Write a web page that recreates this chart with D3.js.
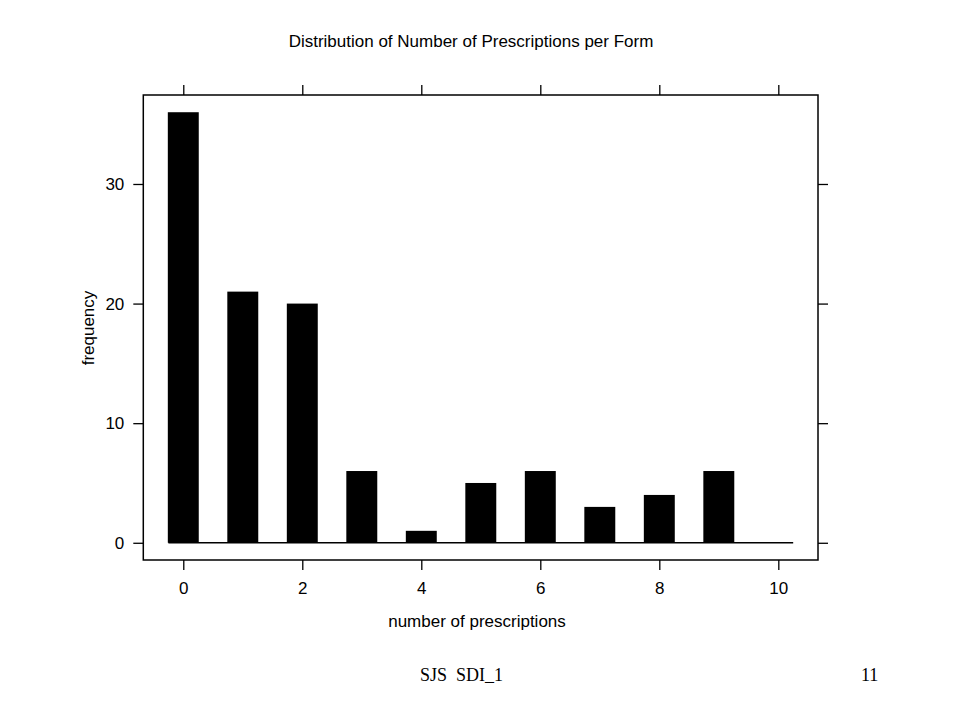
<!DOCTYPE html>
<html><head><meta charset="utf-8">
<script src="https://cdn.jsdelivr.net/npm/d3@7"></script>
<style>body{margin:0;background:#fff}</style>
</head><body>
<svg id="c" width="960" height="720"></svg>
<script>
const counts = [0,1,2,3,4,5,6,7,8,9,10];
const freqs = [36,21,20,6,1,5,6,3,4,6,0];
const xTicks = [0,2,4,6,8,10];
const yTicks = [0,10,20,30];

const svg = d3.select("#c");
const L=143.3, R=818, T=95, B=560;
const x = d3.scaleLinear().domain([-0.672,10.667]).range([L,R]);
const y = d3.scaleLinear().domain([-1.44,37.44]).range([B,T]);
const font = "Liberation Sans, Arial, sans-serif";

svg.append("text").attr("x",471).attr("y",47).attr("text-anchor","middle")
  .attr("font-family",font).attr("font-size",17).text("Distribution of Number of Prescriptions per Form");

// bars
svg.selectAll("rect.bar").data(freqs).enter().append("rect")
  .attr("x",(d,i)=>x(counts[i]-0.26)).attr("width",x(0.26)-x(-0.26))
  .attr("y",d=>y(d)).attr("height",d=>y(0)-y(d)).attr("fill","#000");

// baseline
svg.append("line").attr("x1",x(-0.25)).attr("x2",x(10.25)).attr("y1",y(0)).attr("y2",y(0))
  .attr("stroke","#000").attr("stroke-width",1.5);

// box
svg.append("rect").attr("x",L).attr("y",T).attr("width",R-L).attr("height",B-T)
  .attr("fill","none").attr("stroke","#000").attr("stroke-width",1.5);

// axes
const axB = d3.axisBottom(x).tickValues(xTicks).tickSize(10).tickPadding(12);
const axT = d3.axisTop(x).tickValues(xTicks).tickSize(10).tickFormat("");
const axL = d3.axisLeft(y).tickValues(yTicks).tickSize(10).tickPadding(9);
const axR = d3.axisRight(y).tickValues(yTicks).tickSize(10).tickFormat("");
function style(g){
  g.select(".domain").remove();
  g.selectAll("line").attr("stroke","#000").attr("stroke-width",1.3);
  g.selectAll("text").attr("font-family",font).attr("font-size",17).attr("fill","#000");
}
svg.append("g").attr("transform",`translate(0,${B})`).call(axB).call(style);
svg.append("g").attr("transform",`translate(0,${T})`).call(axT).call(style);
svg.append("g").attr("transform",`translate(${L},0)`).call(axL).call(style);
svg.append("g").attr("transform",`translate(${R},0)`).call(axR).call(style);

svg.append("text").attr("x",477).attr("y",627).attr("text-anchor","middle")
  .attr("font-family",font).attr("font-size",17).text("number of prescriptions");
svg.append("text").attr("transform","translate(94,328) rotate(-90)").attr("text-anchor","middle")
  .attr("font-family",font).attr("font-size",17).text("frequency");

svg.append("text").attr("x",420).attr("y",681)
  .attr("font-family","Liberation Serif, Times New Roman, serif").attr("font-size",18).attr("xml:space","preserve").text("SJS  SDI_1");
svg.append("text").attr("x",861).attr("y",681)
  .attr("font-family","Liberation Serif, Times New Roman, serif").attr("font-size",18).text("11");
</script>
</body></html>
